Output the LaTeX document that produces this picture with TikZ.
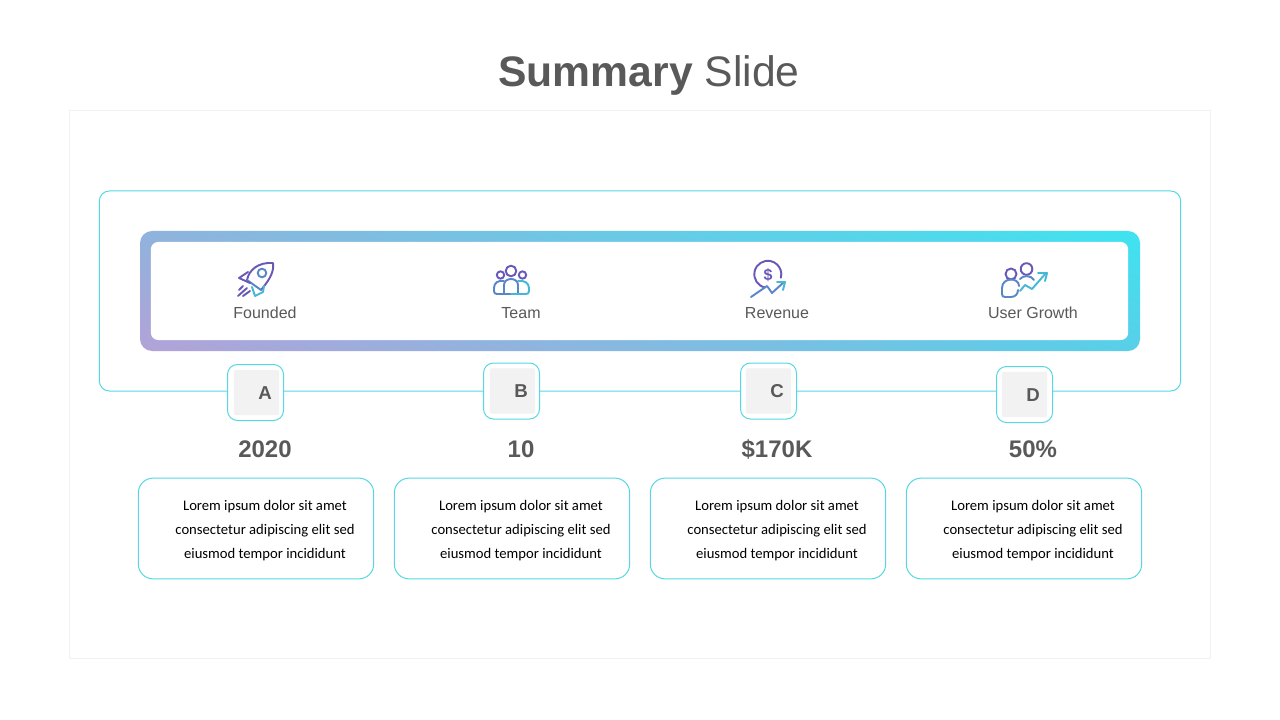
\documentclass[tikz,border=0pt]{standalone}
\usepackage{fontspec}
\setmainfont{Liberation Sans}
\newfontfamily\loremfont{Carlito}
\usetikzlibrary{shadings}
\definecolor{lineCyan}{HTML}{55D8E2}
\definecolor{titleGray}{HTML}{595959}
\definecolor{keyGray}{HTML}{F2F2F2}
\definecolor{panelGray}{HTML}{F2F2F2}
\definecolor{iconA}{HTML}{6A58B8}
\definecolor{iconB}{HTML}{5A86C8}
\definecolor{iconC}{HTML}{45B8D8}
\tikzset{
  keyouter/.style={draw=lineCyan, line width=0.75pt, fill=white, rounded corners=7.5pt, minimum width=42pt, minimum height=42pt, inner sep=0pt},
  keyinner/.style={fill=keyGray, rounded corners=1.5pt, minimum width=34pt, minimum height=34pt, inner sep=0pt},
  keyletter/.style={text=titleGray, font=\fontsize{14}{16}\selectfont\bfseries, inner sep=0pt},
  topic/.style={text=titleGray, font=\fontsize{12}{14}\selectfont, inner sep=0pt, anchor=base},
  figure/.style={text=titleGray, font=\fontsize{18}{20}\selectfont\bfseries, inner sep=0pt},
  notebox/.style={draw=lineCyan, line width=0.75pt, rounded corners=11pt, minimum width=176.5pt, minimum height=75.5pt, inner sep=0pt},
  notetext/.style={text=black, align=center, font=\loremfont\fontsize{11}{18}\selectfont, inner sep=0pt},
  iconline/.style={line width=1.45pt, line cap=round, line join=round}
}

\begin{document}
\begin{tikzpicture}[x=0.75pt, y=-0.75pt]
  \useasboundingbox (0,0) rectangle (1280,720);

  \node[text=titleGray, font=\fontsize{32}{36}\selectfont, inner sep=0pt] (TITLE) at (649,75) {\textbf{Summary} Slide};

  \node[draw=panelGray, line width=0.5pt, minimum width=856pt, minimum height=411pt, inner sep=0pt] (PANEL) at (640,384) {};
  \node[draw=lineCyan, line width=0.75pt, rounded corners=7.5pt, minimum width=811pt, minimum height=150pt, inner sep=0pt] (FRAME) at (640,291) {};

  \node[rounded corners=9pt, minimum width=750pt, minimum height=90pt, inner sep=0pt,
    shading=bilinear interpolation, upper left={rgb,255:red,143;green,179;blue,220}, upper right={rgb,255:red,63;green,227;blue,240},
    lower left={rgb,255:red,179;green,162;blue,216}, lower right={rgb,255:red,88;green,207;blue,232}] (BAND) at (640,291) {};
  \node[fill=white, rounded corners=5.5pt, minimum width=733pt, minimum height=73.5pt, inner sep=0pt] (WINDOW) at (639.5,291) {};

  % rocket
  \draw[iconline, iconA] (247,280) .. controls (249,270) and (258,262) .. (273,263) .. controls (274,271) and (271,278) .. (261,290);
  \draw[iconline, iconB] (247,280) -- (261,290);
  \draw[iconline, iconA] (248,272) -- (239,278) -- (250,283);
  \draw[iconline, iconC] (264,286) -- (263,292) -- (255,296) -- (252,287);
  \draw[iconline, iconB] (262,273) circle (4.3);
  \draw[iconline, iconA] (238,296) -- (247,288);
  \draw[iconline, iconA] (243,296) -- (250,291);
  \draw[iconline, iconA] (239,290) -- (243,286);

  % team
  \draw[iconline, iconA] (511,271) circle (5.3);
  \draw[iconline, iconA] (500.5,275) circle (3.7);
  \draw[iconline, iconA] (522.5,275) circle (3.7);
  \draw[iconline, iconB] (504,294) -- (504,285) .. controls (504,277) and (518,277) .. (518,285) -- (518,294);
  \draw[iconline, iconB] (504,281) .. controls (498,280) and (494,283) .. (494,288) -- (494,291);
  \draw[iconline, iconC] (518,281) .. controls (524,280) and (529,283) .. (529,288) -- (529,291);
  \draw[iconline, iconB] (494,291) .. controls (494,293) and (495,294) .. (497,294) -- (511,294);
  \draw[iconline, iconC] (511,294) -- (526,294) .. controls (528,294) and (529,293) .. (529,291);

  % revenue
  \draw[iconline, iconA] (765,287.5) arc (102:375:13.5);
  \node[text=iconA, font=\fontsize{12}{12}\selectfont\bfseries, inner sep=0pt] (DOLLAR) at (768,275) {\$};
  \draw[iconline, iconB] (751,297) -- (767,286) -- (772,293) -- (784,282);
  \draw[iconline, iconC] (777,282) -- (785,282) -- (783,290);

  % user growth
  \draw[iconline, iconA] (1011,274) circle (5.5);
  \draw[iconline, iconA] (1026.5,269) circle (5.8);
  \draw[iconline, iconB] (1002,294) -- (1002,288) .. controls (1002,277) and (1019,277) .. (1019,286);
  \draw[iconline, iconB] (1002,294) .. controls (1002,296) and (1003,297) .. (1005,297) -- (1011,297) .. controls (1015,297) and (1018,294) .. (1018,290);
  \draw[iconline, iconB] (1020,279) .. controls (1023,275) and (1031,275) .. (1034,280);
  \draw[iconline, iconC] (1020,291) -- (1025,285) -- (1032,289) -- (1046,273);
  \draw[iconline, iconC] (1038,273) -- (1047,273) -- (1045,281);

  \node[topic] (FOUNDED) at (265,318.5) {Founded};
  \node[topic] (TEAM) at (521,318.5) {Team};
  \node[topic] (REVENUE) at (777,318.5) {Revenue};
  \node[topic] (GROWTH) at (1033,318.5) {User Growth};

  \node[keyouter] (KEYA) at (255.5,392.5) {};
  \node[keyouter] (KEYB) at (511.5,391) {};
  \node[keyouter] (KEYC) at (768.5,391) {};
  \node[keyouter] (KEYD) at (1024.5,394.5) {};

  \node[keyinner] (BOXA) at (256.5,392.5) {};
  \node[keyinner] (BOXB) at (512.5,391) {};
  \node[keyinner] (BOXC) at (768.5,391) {};
  \node[keyinner] (BOXD) at (1024.5,394.5) {};

  \node[keyletter] (A) at (265,393) {A};
  \node[keyletter] (B) at (521,391) {B};
  \node[keyletter] (C) at (777,391) {C};
  \node[keyletter] (D) at (1033,395) {D};

  \node[figure] (YEAR) at (265,449) {2020};
  \node[figure] (STAFF) at (521,449) {10};
  \node[figure] (MONEY) at (777,449) {\$170K};
  \node[figure] (SHARE) at (1033,449) {50\%};

  \node[notebox] (NOTEA) at (256,528.5) {};
  \node[notebox] (NOTEB) at (512,528.5) {};
  \node[notebox] (NOTEC) at (768,528.5) {};
  \node[notebox] (NOTED) at (1024,528.5) {};

  \node[notetext] (TEXTA) at (265,531) {Lorem ipsum dolor sit amet\\consectetur adipiscing elit sed\\eiusmod tempor incididunt};
  \node[notetext] (TEXTB) at (521,531) {Lorem ipsum dolor sit amet\\consectetur adipiscing elit sed\\eiusmod tempor incididunt};
  \node[notetext] (TEXTC) at (777,531) {Lorem ipsum dolor sit amet\\consectetur adipiscing elit sed\\eiusmod tempor incididunt};
  \node[notetext] (TEXTD) at (1033,531) {Lorem ipsum dolor sit amet\\consectetur adipiscing elit sed\\eiusmod tempor incididunt};
\end{tikzpicture}
\end{document}
